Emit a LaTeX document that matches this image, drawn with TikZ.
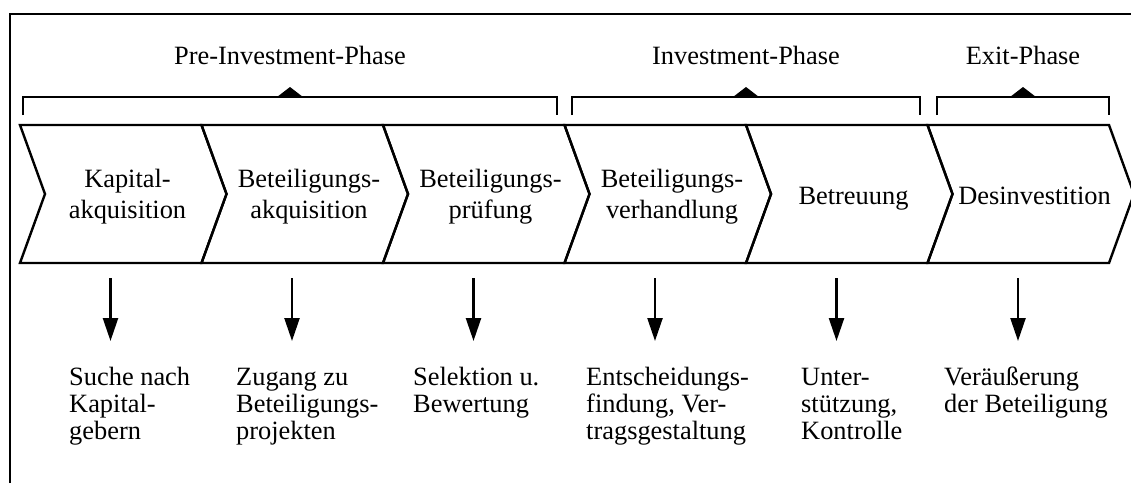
\documentclass[tikz,border=0pt]{standalone}
\usepackage{fontspec}
\setmainfont{Liberation Serif}
\usetikzlibrary{arrows.meta}
\begin{document}
\begin{tikzpicture}[x=1pt,y=-1pt,line width=2.4pt,line join=miter,
  phase/.style={font=\fontsize{26.4}{31}\selectfont,anchor=base,inner sep=0pt},
  stage/.style={font=\fontsize{26.4}{31}\selectfont,align=center,anchor=base,inner sep=0pt},
  task/.style={font=\fontsize{26.4}{27}\selectfont,align=left,anchor=base west,inner sep=0pt},
  flow/.style={-{Triangle[width=15pt,length=23pt]},line width=2.4pt},
  brace/.style={line width=2.4pt},
  chev/.style={line width=2.4pt,line join=miter}]
\useasboundingbox (0,0) rectangle (1131,483);
% outer frame (top and left edge)
\draw (10,483) -- (10,14) -- (1131,14);

% phase brackets with their peak marks
\foreach \l/\r in {23/557,572/920,937/1109}{
  \draw[brace] (\l,115) -- (\l,97) -- (\r,97) -- (\r,115);
  \fill ({(\l+\r)/2-13},97) -- ({(\l+\r)/2},87) -- ({(\l+\r)/2+13},97) -- cycle;
}
\node[phase] (p1) at (290,64) {Pre-Investment-Phase};
\node[phase] (p2) at (746,64) {Investment-Phase};
\node[phase] (p3) at (1023,64) {Exit-Phase};

% chevron chain
\foreach \i in {0,...,5}{
  \pgfmathsetmacro\s{20+181.5*\i}
  \draw[chev] (\s,125) -- ++(181.5,0) -- ++(25,69) -- ++(-25,69)
     -- ++(-181.5,0) -- ++(25,-69) -- cycle;
}
% stage names (positioned by the baseline of their last line)
\node[stage] (s1) at (127.5,218) {Kapital-\\akquisition};
\node[stage] (s2) at (309,218) {Beteiligungs-\\akquisition};
\node[stage] (s3) at (490.5,218) {Beteiligungs-\\prüfung};
\node[stage] (s4) at (672,218) {Beteiligungs-\\verhandlung};
\node[stage] (s5) at (853.5,204) {Betreuung};
\node[stage] (s6) at (1034.5,204) {Desinvestition};

% tasks of each stage (positioned by the baseline of their last line)
\node[task] (t1) at (68,439) {Suche nach\\Kapital-\\gebern};
\node[task] (t2) at (235,439) {Zugang zu\\Beteiligungs-\\projekten};
\node[task] (t3) at (412,412) {Selektion u.\\Bewertung};
\node[task] (t4) at (585,439) {Entscheidungs-\\findung, Ver-\\tragsgestaltung};
\node[task] (t5) at (800,439) {Unter-\\stützung,\\Kontrolle};
\node[task] (t6) at (943,412) {Veräußerung\\der Beteiligung};

% arrows from the stages down to their tasks
\foreach \i in {1,...,6}{
  \pgfmathsetmacro\x{20+181.5*(\i-1)+90.5}
  \coordinate (a\i) at (\x,278);
  \coordinate (b\i) at (\x,341);
  \draw[flow] (a\i) -- (b\i);
}
\end{tikzpicture}
\end{document}
